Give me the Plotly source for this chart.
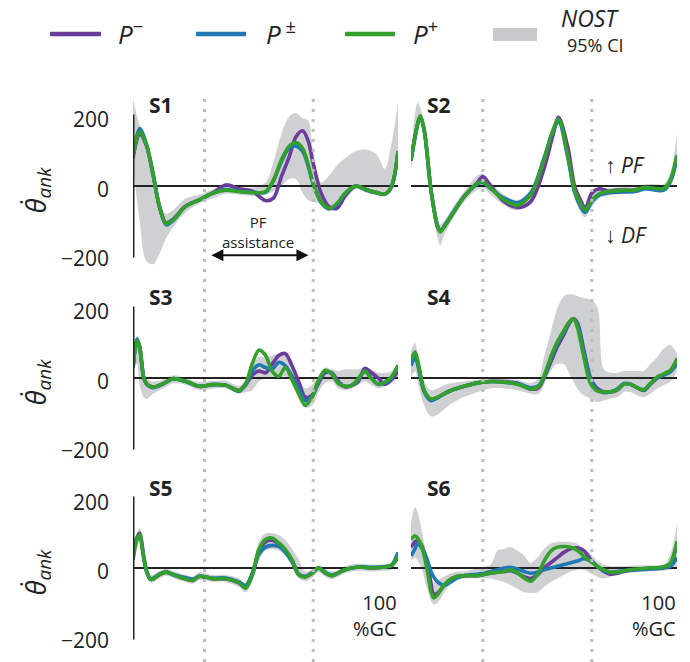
import plotly.graph_objects as go

# ---------------- data ----------------
# x: % gait cycle ; values: ankle angular velocity (deg/s)
S1_X = [0, 2.5, 5, 7.5, 10, 12.5, 15, 20, 25, 30, 35, 40, 45, 50, 53, 56, 59, 61.5, 64, 66, 68, 71, 74, 77, 80, 84, 88, 92, 95, 97.5, 100]
S1_PMINUS = [80, 150, 118, 34, -60, -106, -96, -57, -40, -20, 3, -8, -15, -42, -35, 27, 85, 142, 159, 132, 65, -21, -60, -64, -30, 0, -10, -19, -23, -2, 95]
S1_PPM = [90, 165, 122, 40, -60, -112, -100, -58, -40, -21, -10, -15, -18, -18, 15, 70, 110, 115, 100, 60, 5, -48, -66, -52, -22, 0, -12, -20, -24, -4, 100]
S1_PPLUS = [85, 156, 120, 36, -60, -108, -98, -58, -40, -21, -12, -16, -19, -16, 17, 75, 115, 125, 108, 65, 8, -45, -64, -50, -21, 0, -10, -19, -23, -2, 99]
S1_CI_HI = [250, 175, 130, 50, -40, -80, -70, -35, -25, -10, 0, -5, -5, 10, 70, 150, 200, 210, 195, 190, 100, 10, 30, 60, 80, 100, 105, 90, 50, 120, 240]
S1_CI_LO = [60, -100, -215, -225, -195, -150, -120, -75, -50, -35, -22, -25, -28, -25, -15, 0, 20, 20, -20, -40, -45, -50, -60, -55, -25, -10, -15, -25, -28, -10, 90]

S2_X = [0, 2.5, 3.5, 5, 7.5, 10, 11, 12.5, 15, 20, 25, 27, 30, 35, 40, 45, 50, 53, 55.5, 59, 61.5, 64, 65.5, 68, 71, 74, 77, 80, 84, 88, 92, 95, 97.5, 100]
S2_PMINUS = [75, 178, 200, 160, -10, -115, -130, -117, -88, -30, 10, 27, 0, -45, -62, -45, 50, 135, 197, 110, 0, -45, -65, -20, -8, -15, -12, -12, -12, -5, -8, -8, 15, 85]
S2_PPM = [72, 178, 200, 158, -12, -117, -130, -115, -86, -30, 6, 10, -8, -35, -48, -20, 80, 150, 185, 80, -18, -62, -76, -45, -25, -20, -18, -17, -16, -8, -12, -12, 12, 80]
S2_PPLUS = [75, 180, 202, 161, -12, -117, -132, -117, -88, -31, 8, 12, -7, -40, -55, -26, 75, 152, 192, 85, -12, -55, -69, -40, -21, -16, -14, -12, -12, -4, -7, -7, 17, 89]
S2_CI_HI = [90, 240, 225, 175, 20, -95, -110, -100, -70, -15, 30, 35, 10, -25, -40, -10, 95, 170, 205, 115, 10, -40, -55, -20, -8, -5, -5, -3, -3, 5, 5, 5, 40, 150]
S2_CI_LO = [50, 150, 185, 130, -40, -150, -170, -140, -105, -45, -10, -5, -25, -55, -70, -40, 50, 130, 175, 60, -35, -80, -90, -60, -35, -28, -25, -22, -22, -15, -15, -15, 5, 80]

S3_X = [0, 1.5, 2.5, 4, 5, 7.5, 10, 12.5, 15, 20, 25, 30, 35, 40, 42.5, 45, 47.5, 50, 52.5, 55, 57.5, 60, 62.5, 65, 67.5, 70, 72.5, 75, 77.5, 80, 82.5, 85, 87.5, 90, 92.5, 95, 97.5, 100]
S3_PMINUS = [30, 105, 88, 3, -16, -26, -21, -12, -2, -10, -24, -19, -21, -36, -20, 8, 20, 15, 40, 65, 70, 35, -10, -55, -50, -15, 15, 15, -10, -25, -22, -10, 28, 15, 0, -18, -5, 20]
S3_PPM = [30, 112, 92, 3, -16, -28, -22, -12, -2, -10, -24, -19, -21, -38, -18, 20, 38, 30, 25, 45, 35, 5, -30, -65, -55, -10, 20, 12, -14, -24, -21, -4, 18, 0, -18, -14, 0, 35]
S3_PPLUS = [32, 108, 89, 3, -16, -26, -21, -12, -2, -10, -24, -19, -21, -36, -16, 41, 80, 65, 20, 5, 30, -5, -45, -79, -55, -7, 22, 12, -16, -24, -21, -2, 20, -2, -18, -12, 3, 36]
S3_CI_HI = [60, 120, 100, 20, 0, -10, -8, 0, 8, 0, -12, -8, -8, -22, -5, 40, 60, 60, 65, 70, 70, 40, 0, -30, -20, 5, 30, 25, 20, 25, 25, 25, 30, 25, 15, 15, 20, 45]
S3_CI_LO = [20, 40, -20, -55, -60, -45, -35, -25, -15, -20, -35, -30, -30, -45, -40, -35, -10, 0, 0, 0, 5, -15, -55, -85, -80, -40, -15, -10, -30, -35, -30, -20, -10, -20, -30, -25, -15, 0]

S4_X = [0, 1.5, 2.5, 5, 7.5, 10, 12.5, 15, 20, 25, 30, 35, 40, 45, 48, 50, 52.5, 55, 57.5, 59, 61, 62.5, 65, 67.5, 70, 72.5, 75, 77.5, 80, 82.5, 85, 87.5, 90, 92.5, 95, 97.5, 100]
S4_PMINUS = [45, 65, 45, -38, -62, -56, -45, -36, -24, -14, -10, -10, -15, -32, -28, 0, 45, 90, 125, 150, 170, 160, 80, 0, -30, -40, -40, -34, -18, -18, -28, -36, -18, 0, 10, 20, 48]
S4_PPM = [35, 60, 40, -40, -65, -57, -46, -36, -24, -14, -10, -12, -16, -28, -22, 3, 55, 98, 132, 155, 170, 155, 72, -5, -35, -42, -40, -32, -16, -18, -28, -34, -16, 0, 8, 18, 40]
S4_PPLUS = [51, 75, 51, -36, -60, -55, -45, -36, -24, -14, -10, -12, -18, -31, -24, 5, 60, 104, 137, 156, 171, 147, 60, -16, -37, -40, -40, -34, -18, -18, -28, -34, -16, 3, 12, 22, 56]
S4_CI_HI = [80, 100, 70, -10, -35, -30, -20, -15, -10, -5, -2, -3, -5, -15, 0, 60, 130, 200, 235, 240, 240, 235, 230, 225, 205, 25, 15, 15, 20, 20, 20, 20, 40, 60, 85, 95, 70]
S4_CI_LO = [0, 20, -10, -80, -110, -105, -90, -75, -55, -40, -30, -30, -35, -45, -45, -20, 20, 40, 40, 20, -10, -30, -50, -60, -70, -65, -60, -55, -40, -40, -50, -55, -45, -30, -20, -10, 20]

S5_X = [0, 1.5, 2.5, 4, 5, 6.5, 7.5, 10, 12.5, 15, 17.5, 20, 22.5, 25, 27.5, 30, 35, 40, 42.5, 45, 47.5, 50, 52.5, 55, 57.5, 60, 62.5, 65, 67.5, 70, 72.5, 75, 77.5, 80, 85, 90, 95, 97.5, 100]
S5_PMINUS = [28, 88, 100, 36, -5, -32, -32, -19, -12, -19, -26, -32, -36, -24, -26, -31, -31, -43, -56, -20, 48, 75, 80, 70, 50, 22, -18, -25, -15, 0, -14, -22, -14, -5, 3, 0, 3, 7, 30]
S5_PPM = [35, 85, 92, 30, -8, -32, -30, -18, -12, -18, -24, -28, -32, -24, -26, -29, -29, -40, -50, -15, 40, 60, 65, 62, 45, 18, -18, -24, -14, 0, -12, -20, -14, -5, 3, 2, 4, 8, 45]
S5_PPLUS = [24, 82, 96, 34, -5, -32, -32, -19, -12, -19, -26, -32, -36, -24, -26, -31, -31, -43, -58, -19, 53, 82, 86, 72, 53, 24, -19, -26, -16, 0, -14, -22, -14, -5, 3, 0, 3, 7, 34]
S5_CI_HI = [40, 100, 115, 60, 10, -20, -20, -8, -2, -8, -15, -20, -25, -12, -15, -20, -20, -30, -45, 0, 75, 100, 100, 95, 80, 55, 25, -10, -5, 8, -2, -10, -5, 5, 12, 10, 10, 15, 40]
S5_CI_LO = [10, 60, 80, 15, -20, -42, -42, -30, -22, -28, -35, -40, -45, -35, -36, -40, -40, -55, -70, -40, 20, 50, 55, 50, 35, 5, -30, -38, -28, -12, -25, -32, -25, -15, -8, -10, -8, -5, 20]

S6_X = [0, 1.5, 2.5, 4, 5, 6.5, 7.5, 8.5, 10, 12.5, 15, 17.5, 20, 25, 30, 32.5, 35, 37.5, 40, 42.5, 45, 47.5, 50, 52.5, 55, 57.5, 60, 62.5, 65, 67.5, 70, 72.5, 75, 77.5, 80, 85, 90, 95, 97.5, 100]
S6_PMINUS = [60, 75, 80, 65, 40, 0, -45, -75, -72, -50, -32, -24, -22, -22, -14, -12, -10, -8, -15, -25, -30, -20, 0, 15, 30, 45, 55, 58, 50, 25, 5, -10, -18, -15, -10, -4, 0, 3, 12, 70]
S6_PPM = [35, 55, 70, 58, 45, 15, -10, -25, -40, -50, -40, -28, -22, -18, -10, -5, 0, 2, -3, -10, -15, -12, -5, 0, 5, 10, 15, 20, 27, 20, 5, -8, -12, -10, -8, -5, -3, 0, 5, 30]
S6_PPLUS = [82, 93, 86, 62, 34, -24, -67, -86, -77, -48, -32, -24, -22, -22, -14, -12, -10, -5, -14, -29, -38, -19, 19, 48, 60, 62, 60, 51, 34, 19, 5, -5, -12, -12, -8, -3, 0, 3, 14, 77]
S6_CI_HI = [130, 175, 160, 110, 70, 20, -20, -40, -35, -25, -15, -10, -10, 0, 10, 50, 55, 60, 50, 35, 15, 30, 55, 70, 75, 75, 75, 70, 55, 40, 20, 10, 5, 5, 5, 8, 8, 10, 40, 130]
S6_CI_LO = [20, 30, 20, 0, -30, -70, -95, -105, -100, -70, -45, -35, -30, -30, -30, -35, -40, -50, -60, -70, -72, -70, -55, -40, -30, -20, -10, -5, -5, -15, -25, -30, -25, -20, -15, -12, -10, -8, -5, 0]

PANEL_NAMES = ["S1", "S2", "S3", "S4", "S5", "S6"]
SERIES_NAMES = ["P−", "P±", "P+"]
Y_TICK_VALUES = [200, 0, -200]
Y_TICK_TEXT = ["200", "0", "\u2212200"]
ASSIST_BOUNDS = [27, 68]   # % gait cycle, PF assistance window

PANELS = [
    (S1_X, S1_PMINUS, S1_PPM, S1_PPLUS, S1_CI_LO, S1_CI_HI),
    (S2_X, S2_PMINUS, S2_PPM, S2_PPLUS, S2_CI_LO, S2_CI_HI),
    (S3_X, S3_PMINUS, S3_PPM, S3_PPLUS, S3_CI_LO, S3_CI_HI),
    (S4_X, S4_PMINUS, S4_PPM, S4_PPLUS, S4_CI_LO, S4_CI_HI),
    (S5_X, S5_PMINUS, S5_PPM, S5_PPLUS, S5_CI_LO, S5_CI_HI),
    (S6_X, S6_PMINUS, S6_PPM, S6_PPLUS, S6_CI_LO, S6_CI_HI),
]

# ---------------- styling ----------------
W, H = 690, 662
FONT = "Open Sans"
INK = "#222222"
C_PURPLE = "#6A3D9A"
C_BLUE = "#1F78B4"
C_GREEN = "#33A02C"
C_BAND = "#CFD0D2"
C_DOT = "#BDBDBD"

def px(x):
    return x / W

def py(y):
    return 1 - y / H

COL_DOM = [[px(133), px(398)], [px(411), px(677)]]
Y_RANGE = [-250, 270]
PPU = 0.3475  # pixels per unit
ROW_ZERO = [186, 378, 568]
ROW_DOM = [[py(z + 250 * PPU), py(z - 270 * PPU)] for z in ROW_ZERO]

fig = go.Figure()
layout_axes = {}
shapes = []
annotations = []

for i, (xs, pm, ppm, pp, lo, hi) in enumerate(PANELS):
    k = i + 1
    col, row = i % 2, i // 2
    xa = "x" if k == 1 else f"x{k}"
    ya = "y" if k == 1 else f"y{k}"
    xkey = "xaxis" if k == 1 else f"xaxis{k}"
    ykey = "yaxis" if k == 1 else f"yaxis{k}"
    layout_axes[xkey] = dict(domain=COL_DOM[col], range=[0, 100], visible=False, anchor=ya, fixedrange=True)
    layout_axes[ykey] = dict(domain=ROW_DOM[row], range=Y_RANGE, visible=False, anchor=xa, fixedrange=True)

    # confidence band
    fig.add_trace(go.Scatter(x=xs, y=lo, xaxis=xa, yaxis=ya, mode="lines",
                             line=dict(width=0, shape="spline", color=C_BAND),
                             showlegend=False, hoverinfo="skip"))
    fig.add_trace(go.Scatter(x=xs, y=hi, xaxis=xa, yaxis=ya, mode="lines",
                             line=dict(width=0, shape="spline", color=C_BAND),
                             fill="tonexty", fillcolor=C_BAND,
                             showlegend=False, hoverinfo="skip"))
    # zero reference line
    fig.add_trace(go.Scatter(x=[0, 100], y=[0, 0], xaxis=xa, yaxis=ya, mode="lines",
                             line=dict(width=2, color=INK), showlegend=False, hoverinfo="skip"))
    # series
    for vals, color, name in ((pm, C_PURPLE, SERIES_NAMES[0]),
                              (ppm, C_BLUE, SERIES_NAMES[1]),
                              (pp, C_GREEN, SERIES_NAMES[2])):
        fig.add_trace(go.Scatter(x=xs, y=vals, xaxis=xa, yaxis=ya, mode="lines", name=name,
                                 line=dict(width=3.6, color=color, shape="spline", smoothing=0.9),
                                 showlegend=False))

    # panel label
    annotations.append(dict(text=f"<b>{PANEL_NAMES[i]}</b>", xref="paper", yref="paper",
                            x=px(147 if col == 0 else 425), y=py([105, 297, 488][row]),
                            xanchor="left", yanchor="middle", showarrow=False,
                            font=dict(size=21, color=INK, family=FONT)))

    # left-column y axis: line, tick labels, title
    if col == 0:
        shapes.append(dict(type="line", xref=xa, yref=ya, x0=0, x1=0, y0=-206, y1=206,
                           line=dict(color=INK, width=3), layer="above"))
        for v, t in zip(Y_TICK_VALUES, Y_TICK_TEXT):
            annotations.append(dict(text=t, xref="paper", yref=ya, x=px(111), y=v, yshift=-3,
                                    xanchor="right", yanchor="middle", showarrow=False,
                                    font=dict(size=21, color=INK, family=FONT)))
        annotations.append(dict(text="<i>\u03b8\u0307</i><sub><i>ank</i></sub>", xref="paper", yref=ya,
                                x=px(37), y=-12, textangle=-90, xanchor="center", yanchor="middle",
                                showarrow=False, font=dict(size=27, color=INK, family=FONT)))

    # bottom row %GC labels
    if row == 2:
        rx = 398 if col == 0 else 677
        annotations.append(dict(text="100<br>%GC", xref="paper", yref="paper", x=px(rx + 1), y=py(615),
                                xanchor="right", yanchor="middle", align="right", showarrow=False,
                                font=dict(size=20, color=INK, family=FONT)))

# dotted PF-assistance bounds spanning all rows
for xa in ("x", "x2"):
    for b in ASSIST_BOUNDS:
        shapes.append(dict(type="line", xref=xa, yref="paper", x0=b, x1=b, y0=0, y1=py(93),
                           line=dict(color=C_DOT, width=3, dash="3px,7px"), layer="above"))

# PF assistance arrow + text
annotations.append(dict(xref="x", yref="y", x=66.2, y=-199, axref="x", ayref="y", ax=29.0, ay=-199,
                        showarrow=True, arrowside="end+start", arrowhead=2, arrowsize=1.2,
                        arrowwidth=2, arrowcolor="#111111", text=""))
annotations.append(dict(text="PF<br>assistance", xref="paper", yref="paper", x=px(258), y=py(232),
                        align="center", showarrow=False, font=dict(size=15, color=INK, family=FONT)))

# PF / DF direction labels
annotations.append(dict(text="\u2191 <i>PF</i>", xref="paper", yref="paper", x=px(603), y=py(149),
                        xanchor="left", showarrow=False, font=dict(size=21, color=INK, family=FONT)))
annotations.append(dict(text="\u2193 <i>DF</i>", xref="paper", yref="paper", x=px(603), y=py(219),
                        xanchor="left", showarrow=False, font=dict(size=21, color=INK, family=FONT)))

# ---------------- legend (manual) ----------------
LEG = [(C_PURPLE, 50, 101, "<i>P</i><sup>\u2212</sup>", 116),
       (C_BLUE, 196, 246, "<i>P</i><sup> \u00b1</sup>", 264),
       (C_GREEN, 345, 395, "<i>P</i><sup>+</sup>", 411)]
for color, x0, x1, label, tx in LEG:
    shapes.append(dict(type="line", xref="paper", yref="paper", x0=px(x0), x1=px(x1),
                       y0=py(34), y1=py(34), line=dict(color=color, width=4.5)))
    annotations.append(dict(text=label, xref="paper", yref="paper", x=px(tx), y=py(33),
                            xanchor="left", yanchor="middle", showarrow=False,
                            font=dict(size=26, color=INK, family=FONT)))
shapes.append(dict(type="rect", xref="paper", yref="paper", x0=px(493), x1=px(537),
                   y0=py(41), y1=py(28), fillcolor="#C8C9CB", line=dict(width=0)))
annotations.append(dict(text="<i>NOST</i>", xref="paper", yref="paper", x=px(590), y=py(18),
                        xanchor="center", yanchor="middle", showarrow=False,
                        font=dict(size=23, color=INK, family=FONT)))
annotations.append(dict(text="95% CI", xref="paper", yref="paper", x=px(595), y=py(45),
                        xanchor="center", yanchor="middle", showarrow=False,
                        font=dict(size=18, color=INK, family=FONT)))

fig.update_layout(
    width=W, height=H,
    margin=dict(l=0, r=0, t=0, b=0),
    paper_bgcolor="white", plot_bgcolor="rgba(0,0,0,0)",
    showlegend=False,
    shapes=shapes, annotations=annotations,
    font=dict(family=FONT, color=INK),
    **layout_axes,
)

fig.write_html("out.html", config={"displayModeBar": False})

# remove the default page margin so the figure sits at the window's top-left corner
with open("out.html", "r", encoding="utf-8") as f:
    html = f.read()
html = html.replace("<head>", "<head><style>html,body{margin:0;padding:0;overflow:hidden;}</style>", 1)
with open("out.html", "w", encoding="utf-8") as f:
    f.write(html)
